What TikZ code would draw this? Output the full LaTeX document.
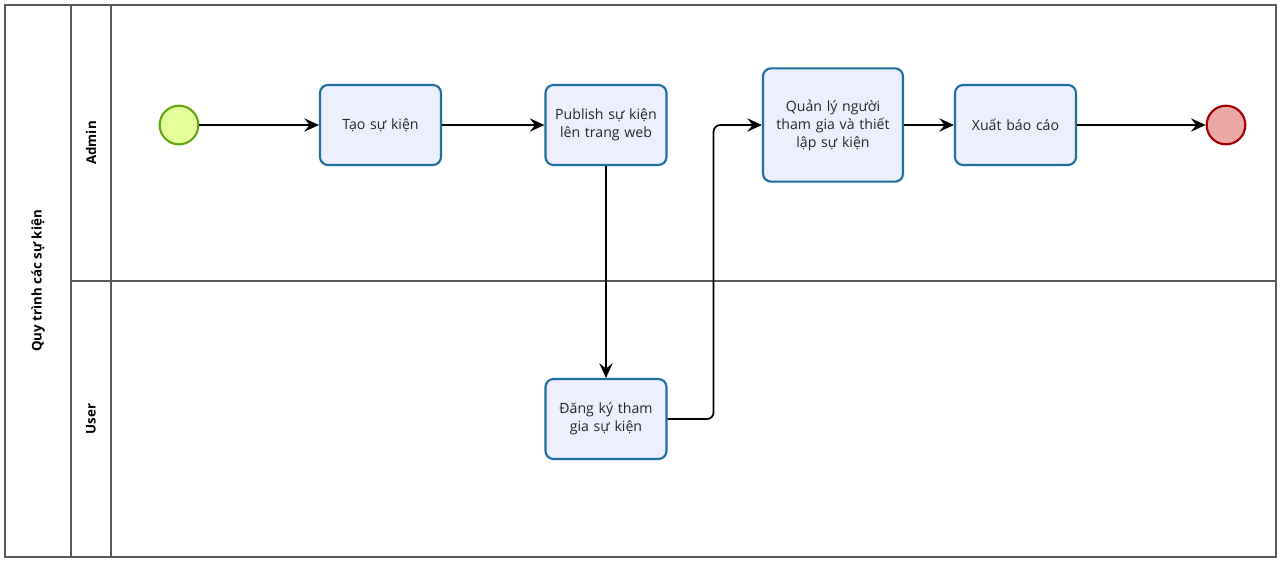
\documentclass[tikz,border=0pt]{standalone}
\usepackage{fontspec}
\setmainfont{Open Sans}
\usetikzlibrary{arrows.meta,calc}
\definecolor{taskfill}{HTML}{ECEFFC}
\definecolor{taskline}{HTML}{1F6F9E}
\definecolor{startfill}{HTML}{E6FE99}
\definecolor{startline}{HTML}{62A716}
\definecolor{endfill}{HTML}{EEA7A7}
\definecolor{endline}{HTML}{A00000}
\definecolor{poolline}{HTML}{5A5A5A}

\begin{document}
\begin{tikzpicture}[x=0.75pt,y=-0.75pt,->,>={Stealth[length=11pt,width=10pt,inset=4pt]},
      line width=1.3pt,every edge/.style={draw,line width=1.3pt},
      task/.style={rectangle,rounded corners=6pt,draw=taskline,line width=1.6pt,
        fill=taskfill,minimum width=90.75pt,minimum height=60pt,align=center,
        text width=84pt,font=\fontsize{10.6}{13.5}\selectfont,text=black!85},
      event/.style={circle,line width=1.6pt,minimum size=29pt,inner sep=0pt},
      lane/.style={draw=poolline,line width=0.8pt},
      lanetext/.style={rotate=90,font=\fontsize{10}{12}\selectfont\bfseries}]
      \useasboundingbox (0,0) rectangle (1283,562);
      % pool and lanes
      \draw[-,lane] (5,5) rectangle (1276,557);
      \draw[-,lane] (71,5) -- (71,557);
      \draw[-,lane] (111,5) -- (111,557);
      \draw[-,lane] (71,281) -- (1276,281);
      \node[lanetext] (pool) at (38,281) {Quy trình các sự kiện};
      \node[lanetext] (admin) at (91,143) {Admin};
      \node[lanetext] (user) at (91,419) {User};

      % events and tasks
      \node[event,draw=startline,fill=startfill] (start) at (179,125) {};
      \node[task] (tao) at (380.5,125) {Tạo sự kiện};
      \node[task] (publish) at (606,125) {Publish sự kiện\\lên trang web};
      \node[task,minimum width=105pt,minimum height=85pt,text width=98pt]
        (quanly) at (833,125) {Quản lý người\\tham gia và thiết\\lập sự kiện};
      \node[task] (xuat) at (1015.5,125) {Xuất báo cáo};
      \node[event,draw=endline,fill=endfill] (end) at (1226,125) {};
      \node[task] (dangky) at (606,419) {Đăng ký tham\\gia sự kiện};

      \path
      (start) edge (tao)
      (tao) edge (publish)
      (publish) edge (dangky)
      (quanly) edge (xuat)
      (xuat) edge (end)
      ;
      \draw[rounded corners=5pt] (dangky.east) -- ++(46,0) |- (quanly.west);
\end{tikzpicture}
\end{document}
